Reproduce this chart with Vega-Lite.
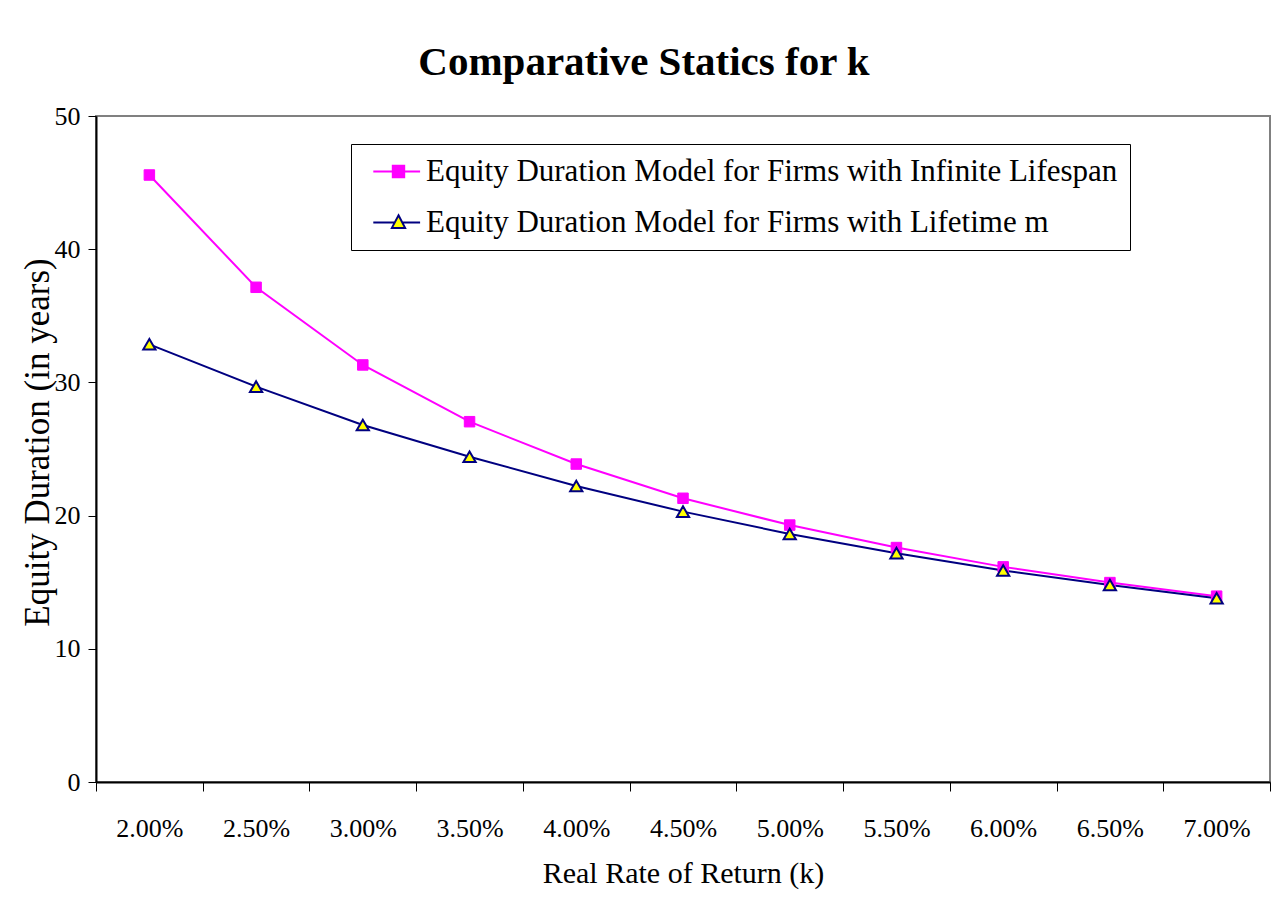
{
  "$schema": "https://vega.github.io/schema/vega-lite/v6.json",
  "width": 1174,
  "height": 666,
  "autosize": {"type": "none"},
  "padding": {"left": 96, "top": 116, "right": 18, "bottom": 119},
  "background": "white",
  "config": {
    "font": "Liberation Serif",
    "view": {"stroke": "#808080", "strokeWidth": 2}
  },
  "title": {
    "text": "Comparative Statics for k",
    "font": "Liberation Serif",
    "fontSize": 41,
    "fontWeight": "bold",
    "color": "black",
    "anchor": "middle",
    "dx": -39,
    "offset": -13,
    "baseline": "alphabetic"
  },
  "data": {
    "values": [
      {"rate": "2.00%", "series": "Equity Duration Model for Firms with Infinite Lifespan", "duration": 45.57},
      {"rate": "2.50%", "series": "Equity Duration Model for Firms with Infinite Lifespan", "duration": 37.14},
      {"rate": "3.00%", "series": "Equity Duration Model for Firms with Infinite Lifespan", "duration": 31.31},
      {"rate": "3.50%", "series": "Equity Duration Model for Firms with Infinite Lifespan", "duration": 27.05},
      {"rate": "4.00%", "series": "Equity Duration Model for Firms with Infinite Lifespan", "duration": 23.87},
      {"rate": "4.50%", "series": "Equity Duration Model for Firms with Infinite Lifespan", "duration": 21.3},
      {"rate": "5.00%", "series": "Equity Duration Model for Firms with Infinite Lifespan", "duration": 19.29},
      {"rate": "5.50%", "series": "Equity Duration Model for Firms with Infinite Lifespan", "duration": 17.6},
      {"rate": "6.00%", "series": "Equity Duration Model for Firms with Infinite Lifespan", "duration": 16.15},
      {"rate": "6.50%", "series": "Equity Duration Model for Firms with Infinite Lifespan", "duration": 14.97},
      {"rate": "7.00%", "series": "Equity Duration Model for Firms with Infinite Lifespan", "duration": 13.95},
      {"rate": "2.00%", "series": "Equity Duration Model for Firms with Lifetime m", "duration": 32.86},
      {"rate": "2.50%", "series": "Equity Duration Model for Firms with Lifetime m", "duration": 29.68},
      {"rate": "3.00%", "series": "Equity Duration Model for Firms with Lifetime m", "duration": 26.8},
      {"rate": "3.50%", "series": "Equity Duration Model for Firms with Lifetime m", "duration": 24.42},
      {"rate": "4.00%", "series": "Equity Duration Model for Firms with Lifetime m", "duration": 22.22},
      {"rate": "4.50%", "series": "Equity Duration Model for Firms with Lifetime m", "duration": 20.3},
      {"rate": "5.00%", "series": "Equity Duration Model for Firms with Lifetime m", "duration": 18.62},
      {"rate": "5.50%", "series": "Equity Duration Model for Firms with Lifetime m", "duration": 17.18},
      {"rate": "6.00%", "series": "Equity Duration Model for Firms with Lifetime m", "duration": 15.88},
      {"rate": "6.50%", "series": "Equity Duration Model for Firms with Lifetime m", "duration": 14.79},
      {"rate": "7.00%", "series": "Equity Duration Model for Firms with Lifetime m", "duration": 13.8}
    ]
  },
  "encoding": {
    "x": {
      "field": "rate",
      "type": "ordinal",
      "sort": null,
      "scale": {"type": "band", "paddingInner": 0, "paddingOuter": 0},
      "axis": {
        "title": "Real Rate of Return (k)",
        "titleFont": "Liberation Serif",
        "titleFontSize": 30,
        "titleFontWeight": "normal",
        "titleColor": "black",
        "titleBaseline": "top",
        "titleY": 76,
        "labelAngle": 0,
        "labelFont": "Liberation Serif",
        "labelFontSize": 26,
        "labelColor": "black",
        "labelPadding": 24,
        "labelBaseline": "top",
        "tickBand": "extent",
        "tickSize": 9,
        "tickColor": "black",
        "tickWidth": 1,
        "domainColor": "black",
        "domainWidth": 2,
        "grid": false
      }
    },
    "y": {
      "field": "duration",
      "type": "quantitative",
      "scale": {"domain": [0, 50], "nice": false},
      "axis": {
        "title": "Equity Duration (in years)",
        "titleFont": "Liberation Serif",
        "titleFontSize": 35,
        "titleFontWeight": "normal",
        "titleColor": "black",
        "titleAngle": -90,
        "titleAlign": "center",
        "titleBaseline": "middle",
        "titleX": -59,
        "titleY": 326,
        "values": [0, 10, 20, 30, 40, 50],
        "labelFont": "Liberation Serif",
        "labelFontSize": 26,
        "labelColor": "black",
        "labelPadding": 8,
        "tickSize": 8,
        "tickColor": "black",
        "domainColor": "black",
        "domainWidth": 2,
        "grid": false
      }
    },
    "stroke": {
      "field": "series",
      "type": "nominal",
      "sort": ["Equity Duration Model for Firms with Infinite Lifespan", "Equity Duration Model for Firms with Lifetime m"],
      "scale": {"range": ["#FF00FF", "#000080"]},
      "legend": {
        "orient": "none",
        "legendX": 255,
        "legendY": 28,
        "title": null,
        "strokeColor": "black",
        "fillColor": "white",
        "padding": 12,
        "rowPadding": 19,
        "labelFont": "Liberation Serif",
        "labelFontSize": 31,
        "labelColor": "black",
        "labelLimit": 1000,
        "labelOffset": 12,
        "symbolOffset": 20,
        "symbolSize": 144,
        "symbolStrokeWidth": 2,
        "encode": {
          "symbols": {
            "update": {
              "shape": {"signal": "indexof(datum.value, 'Infinite') >= 0 ? 'M-4.2,0H3.6M-0.95,-0.95H0.95V0.95H-0.95Z' : 'M-4.2,0H-0.6M0.6,0H3.6M0,-1.2L1.1,0.9L-1.1,0.9Z'"},
              "fill": {"signal": "indexof(datum.value, 'Infinite') >= 0 ? '#FF00FF' : '#FFFF00'"},
              "stroke": {"signal": "indexof(datum.value, 'Infinite') >= 0 ? '#FF00FF' : '#000080'"},
              "strokeWidth": {"value": 2},
              "opacity": {"value": 1}
            }
          }
        }
      }
    }
  },
  "layer": [
    {
      "mark": {"type": "line", "strokeWidth": 2}
    },
    {
      "mark": {"type": "point", "opacity": 1},
      "encoding": {
        "shape": {
          "field": "series",
          "type": "nominal",
          "sort": ["Equity Duration Model for Firms with Infinite Lifespan", "Equity Duration Model for Firms with Lifetime m"],
          "scale": {"range": ["square", "triangle-up"]},
          "legend": null
        },
        "fill": {
          "field": "series",
          "type": "nominal",
          "sort": ["Equity Duration Model for Firms with Infinite Lifespan", "Equity Duration Model for Firms with Lifetime m"],
          "scale": {"range": ["#FF00FF", "#FFFF00"]},
          "legend": null
        },
        "size": {
          "field": "series",
          "type": "nominal",
          "sort": ["Equity Duration Model for Firms with Infinite Lifespan", "Equity Duration Model for Firms with Lifetime m"],
          "scale": {"type": "ordinal", "range": [110, 150]},
          "legend": null
        },
        "strokeWidth": {
          "field": "series",
          "type": "nominal",
          "sort": ["Equity Duration Model for Firms with Infinite Lifespan", "Equity Duration Model for Firms with Lifetime m"],
          "scale": {"type": "ordinal", "range": [1, 2]},
          "legend": null
        }
      }
    }
  ]
}
